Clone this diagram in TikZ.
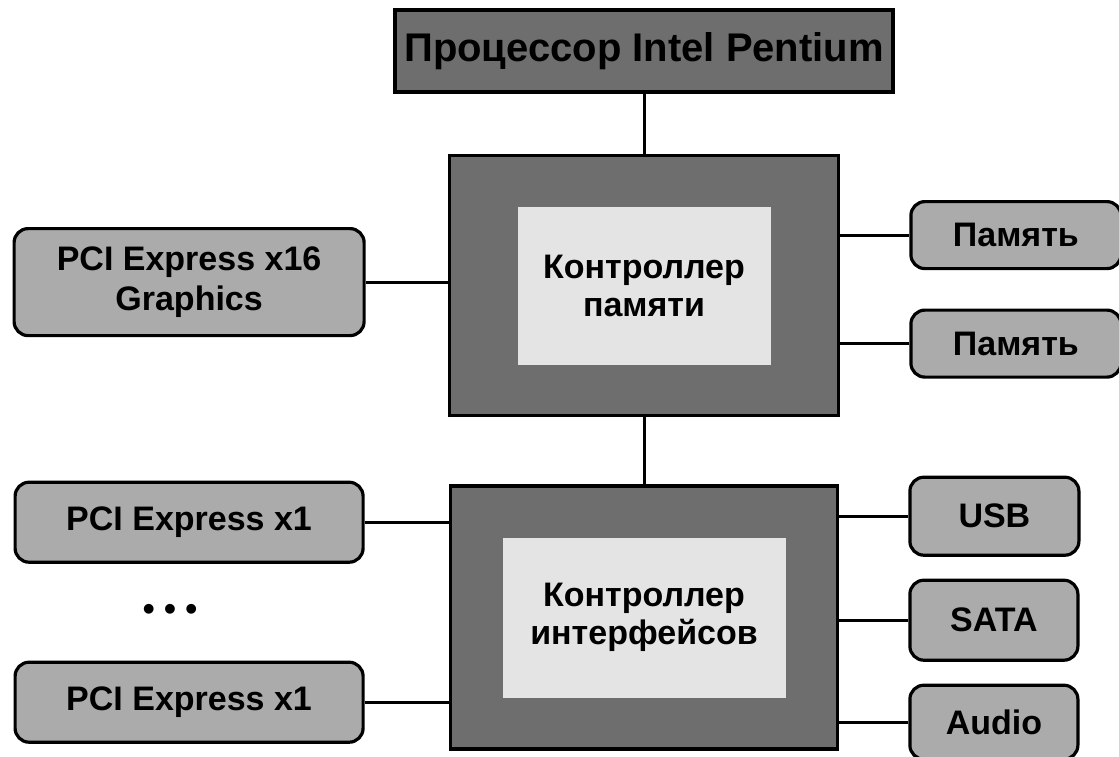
\documentclass[tikz,border=0pt]{standalone}
\usepackage{fontspec}
\setmainfont{Liberation Sans}
\usetikzlibrary{positioning, calc}
\definecolor{DarkShade}{HTML}{6E6E6E}
\definecolor{MidShade}{HTML}{ABABAB}
\definecolor{LightShade}{HTML}{E4E4E4}
\tikzset{
  cpubox/.style={draw=black, line width=1.8pt, fill=DarkShade, align=center, inner sep=0pt, font=\fontsize{20}{23}\selectfont\bfseries},
  chipbox/.style={draw=black, line width=1.8pt, fill=DarkShade, inner sep=0pt},
  corebox/.style={fill=LightShade, align=center, inner sep=0pt, font=\fontsize{17}{19}\selectfont\bfseries},
  portbox/.style={draw=black, line width=1.6pt, rounded corners=7pt, fill=MidShade, align=center, inner sep=0pt, font=\fontsize{17}{20}\selectfont\bfseries},
  bus/.style={line width=1.5pt, draw=black}
}

\begin{document}
\begin{tikzpicture}[x=1pt, y=1pt, node distance=30pt]
\useasboundingbox (0,0) rectangle (559.5,-378);
\node[cpubox, minimum width=249pt, minimum height=41pt] (cpu) at (322,-25.5) {Процессор Intel Pentium};
\node[chipbox, below=30pt of cpu, minimum width=194.5pt, minimum height=130pt] (mch) {};
\node[corebox, minimum width=126.5pt, minimum height=79pt] (mchcore) at (mch) {Контроллер\\памяти};
\node[chipbox, below=33.5pt of mch, minimum width=193.5pt, minimum height=131.5pt] (ich) {};
\node[corebox, minimum width=141.5pt, minimum height=80pt] (ichcore) at (ich) {Контроллер\\интерфейсов};
% left side
\node[portbox, left=41pt of mch, yshift=1.75pt, minimum width=175pt, minimum height=53.5pt] (pcig) {PCI Express x16\\Graphics};
\node[portbox, left=42pt of ich, yshift=47.75pt, minimum width=174pt, minimum height=40pt] (pcia) {PCI Express x1};
\node[portbox, left=42pt of ich, yshift=-42.25pt, minimum width=174pt, minimum height=40pt] (pcib) {PCI Express x1};
\node[font=\fontsize{17}{20}\selectfont\bfseries, xshift=-9.5pt] (more) at ($(pcia)!0.5!(pcib)$) {• • •};
% right side
\node[portbox, right=34.5pt of mch, yshift=25.25pt, minimum width=105pt, minimum height=33.5pt] (dimma) {Память};
\node[portbox, right=34.5pt of mch, yshift=-29pt, minimum width=105pt, minimum height=33.5pt] (dimmb) {Память};
\node[portbox, right=34.5pt of ich, yshift=50.75pt, minimum width=84.5pt, minimum height=39pt] (usb) {USB};
\node[portbox, right=34.5pt of ich, yshift=-1.25pt, minimum width=84pt, minimum height=40pt] (sata) {SATA};
\node[portbox, right=34.5pt of ich, yshift=-52.25pt, minimum width=84pt, minimum height=37pt] (audio) {Audio};
% buses
\draw[bus] (cpu) -- (mch);
\draw[bus] (mch) -- (ich);
\draw[bus] (pcig) -- (pcig -| mch.west);
\draw[bus] (pcia) -- (pcia -| ich.west);
\draw[bus] (pcib) -- (pcib -| ich.west);
\draw[bus] (dimma) -- (dimma -| mch.east);
\draw[bus] (dimmb) -- (dimmb -| mch.east);
\draw[bus] (usb) -- (usb -| ich.east);
\draw[bus] (sata) -- (sata -| ich.east);
\draw[bus] (audio) -- (audio -| ich.east);
\end{tikzpicture}
\end{document}
